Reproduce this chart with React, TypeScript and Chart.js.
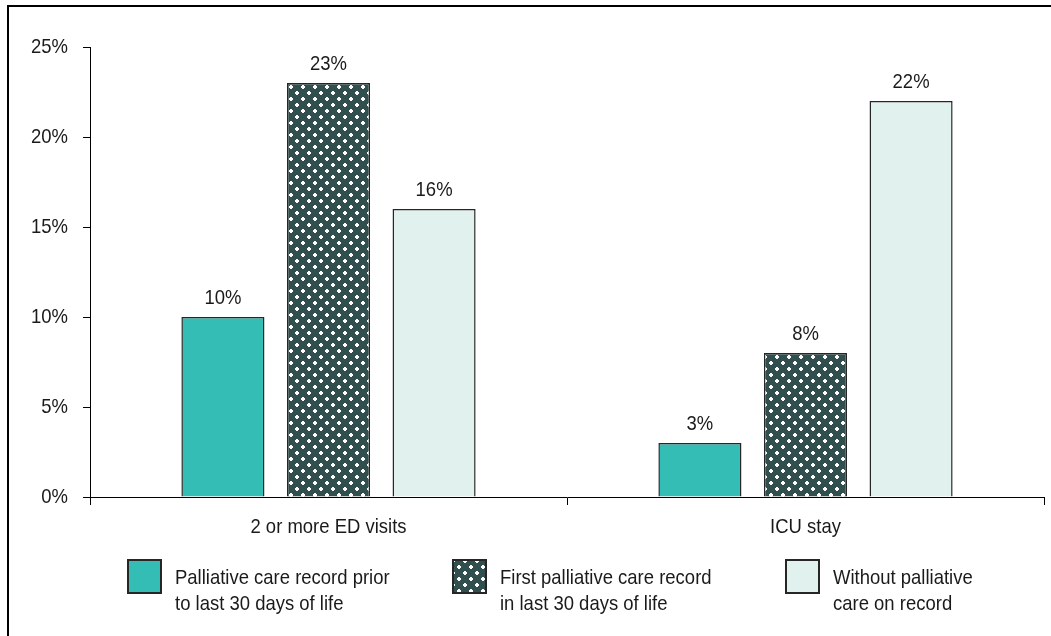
import { useEffect, useRef } from 'react';
import { Chart, registerables } from 'chart.js';

Chart.register(...registerables);

const categories = ['2 or more ED visits', 'ICU stay'];
const seriesNames = [
  ['Palliative care record prior', 'to last 30 days of life'],
  ['First palliative care record', 'in last 30 days of life'],
  ['Without palliative', 'care on record'],
];
const priorValues = [10, 3];
const firstInLast30Values = [23, 8];
const withoutValues = [16, 22];
const yMin = 0;
const yMax = 25;
const yStep = 5;

const TEAL = '#33BDB5';
const DARK = '#304F4E';
const LIGHT = '#E1F1EE';
const EDGE = '#262626';
const TEXT = '#1a1a1a';
const FONT_FAMILY = '"Liberation Sans", Arial, sans-serif';
const FONT_SIZE = 21;
const SQUEEZE = 0.88;

function makeDotTile(): HTMLCanvasElement {
  const c = document.createElement('canvas');
  c.width = 12;
  c.height = 12;
  const g = c.getContext('2d')!;
  g.fillStyle = DARK;
  g.fillRect(0, 0, 12, 12);
  g.fillStyle = '#ffffff';
  const dot = (x: number, y: number) => {
    g.fillRect(x - 1, y, 4, 2);
    g.fillRect(x, y - 1, 2, 4);
  };
  dot(2, 2);
  dot(8, 8);
  return c;
}

function squeezedText(c: CanvasRenderingContext2D, t: string, x: number, y: number, align: CanvasTextAlign) {
  c.save();
  c.translate(x, y);
  c.scale(SQUEEZE, 1);
  c.textAlign = align;
  c.textBaseline = 'alphabetic';
  c.fillText(t, 0, 0);
  c.restore();
}

export default function App() {
  const ref = useRef<HTMLCanvasElement | null>(null);

  useEffect(() => {
    const canvas = ref.current!;
    const ctx0 = canvas.getContext('2d')!;
    const dots = ctx0.createPattern(makeDotTile(), 'repeat')!;
    const fills = [TEAL, dots, LIGHT];

    const framePlugin = {
      id: 'frame',
      beforeDraw(chart: any) {
        const c = chart.ctx;
        c.save();
        c.fillStyle = '#ffffff';
        c.fillRect(0, 0, chart.width, chart.height);
        c.fillStyle = '#000000';
        c.fillRect(7, 5, chart.width, 2);
        c.fillRect(7, 5, 2, chart.height);
        c.restore();
      },
    };

    const textPlugin = {
      id: 'texts',
      afterDraw(chart: any) {
        const c = chart.ctx as CanvasRenderingContext2D;
        const area = chart.chartArea;
        c.save();
        c.font = `${FONT_SIZE}px ${FONT_FAMILY}`;
        c.fillStyle = TEXT;

        // y tick labels
        const ys = chart.scales.y;
        ys.ticks.forEach((tk: any) => {
          const py = ys.getPixelForValue(tk.value);
          squeezedText(c, `${tk.value}%`, area.left - 22, py + 6, 'right');
        });

        // x category labels
        const xs = chart.scales.x;
        categories.forEach((cat, i) => {
          squeezedText(c, cat, xs.getPixelForTick(i), area.bottom + 36, 'center');
        });

        // value labels
        chart.data.datasets.forEach((ds: any, i: number) => {
          const meta = chart.getDatasetMeta(i);
          meta.data.forEach((el: any, j: number) => {
            squeezedText(c, `${ds.data[j]}%`, el.x, el.y - 13, 'center');
          });
        });

        // legend
        const boxX = [128, 453, 786];
        const boxTop = area.bottom + 63;
        const size = 33;
        seriesNames.forEach((lines, i) => {
          const x = boxX[i];
          c.fillStyle = fills[i] as any;
          c.fillRect(x, boxTop, size, size);
          c.strokeStyle = EDGE;
          c.lineWidth = 2;
          c.strokeRect(x, boxTop, size, size);
          c.fillStyle = TEXT;
          lines.forEach((t, k) => {
            squeezedText(c, t, x + size + 14, boxTop + 24 + k * 26, 'left');
          });
        });
        c.restore();
      },
    };

    const chart = new Chart(canvas, {
      type: 'bar',
      data: {
        labels: categories,
        datasets: [
          { label: seriesNames[0].join(' '), data: priorValues, backgroundColor: fills[0] as any },
          { label: seriesNames[1].join(' '), data: firstInLast30Values, backgroundColor: fills[1] as any },
          { label: seriesNames[2].join(' '), data: withoutValues, backgroundColor: fills[2] as any },
        ].map((d) => ({
          ...d,
          borderColor: EDGE,
          borderWidth: 1.5,
          categoryPercentage: 0.664,
          barPercentage: 0.787,
        })),
      },
      options: {
        responsive: false,
        animation: false,
        devicePixelRatio: 1,
        layout: { padding: { left: 0, top: 47, right: 7, bottom: 99 } },
        plugins: {
          legend: { display: false },
          tooltip: { enabled: false },
        },
        scales: {
          x: {
            grid: {
              drawOnChartArea: false,
              drawTicks: true,
              tickLength: 8,
              color: '#000',
              offset: true,
            },
            border: { color: '#000', width: 1 },
            ticks: {
              color: 'rgba(0,0,0,0)',
              font: { family: FONT_FAMILY, size: FONT_SIZE },
              padding: 6,
              maxRotation: 0,
            },
            afterFit(scale: any) {
              scale.height = 40;
            },
          },
          y: {
            min: yMin,
            max: yMax,
            grid: {
              drawOnChartArea: false,
              drawTicks: true,
              tickLength: 7,
              color: '#000',
            },
            border: { color: '#000', width: 1 },
            ticks: {
              stepSize: yStep,
              color: 'rgba(0,0,0,0)',
              padding: 15,
              font: { family: FONT_FAMILY, size: FONT_SIZE },
              callback: (v: any) => `${v}%`,
            },
            afterFit(scale: any) {
              scale.width = 90;
            },
          },
        },
      },
      plugins: [framePlugin, textPlugin],
    });

    return () => chart.destroy();
  }, []);

  return (
    <div style={{ position: 'absolute', left: 0, top: 0, width: 1051, height: 636 }}>
      <canvas ref={ref} width={1051} height={636} style={{ display: 'block' }} />
    </div>
  );
}
